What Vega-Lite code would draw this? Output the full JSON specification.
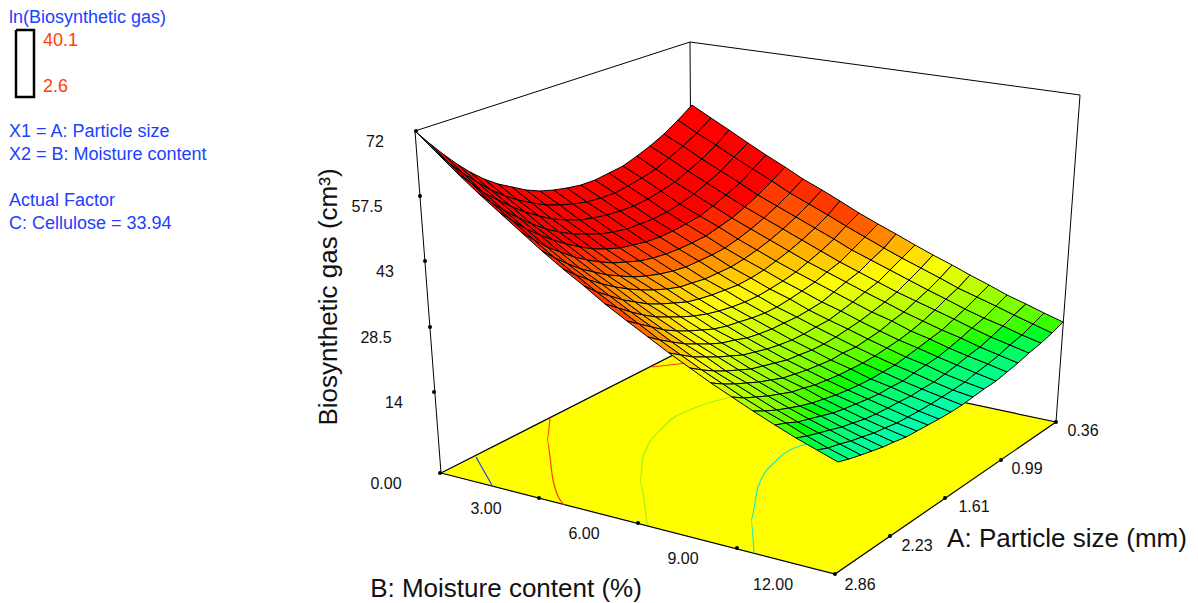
{"$schema":"https://vega.github.io/schema/vega-lite/v6.json","width":1198,"height":603,"padding":0,"autosize":{"type":"fit","contains":"padding"},"background":"white","config":{"view":{"stroke":null}},
"datasets":{
"floor":[{"o":0,"x":441,"y":473},{"o":1,"x":835,"y":574},{"o":2,"x":1056,"y":422},{"o":3,"x":693,"y":345},{"o":4,"x":441,"y":473}],
"frame":[{"s":"a","o":0,"x":441,"y":473},{"s":"a","o":1,"x":415,"y":131},{"s":"a","o":2,"x":690,"y":42},{"s":"a","o":3,"x":1080,"y":95},{"s":"a","o":4,"x":1056,"y":422},{"s":"b","o":0,"x":690,"y":42},{"s":"b","o":1,"x":692,"y":345}],
"contours":[{"s":"c1","o":0,"x":476,"y":457},{"s":"c1","o":1,"x":493,"y":487},
{"s":"c2","o":0,"x":550,"y":418},{"s":"c2","o":1,"x":547,"y":440},{"s":"c2","o":2,"x":553,"y":480},{"s":"c2","o":3,"x":564,"y":505},
{"s":"c2b","o":0,"x":652,"y":367},{"s":"c2b","o":1,"x":687,"y":363},
{"s":"c3","o":0,"x":732,"y":397},{"s":"c3","o":1,"x":697,"y":407},{"s":"c3","o":2,"x":663,"y":427},{"s":"c3","o":3,"x":643,"y":457},{"s":"c3","o":4,"x":640,"y":483},{"s":"c3","o":5,"x":647,"y":525},
{"s":"c4","o":0,"x":807,"y":444},{"s":"c4","o":1,"x":777,"y":460},{"s":"c4","o":2,"x":758,"y":487},{"s":"c4","o":3,"x":751,"y":520},{"s":"c4","o":4,"x":754,"y":553}],
"ticks":[{"x":416,"y":131},{"x":420,"y":196},{"x":425,"y":261},{"x":430,"y":327},{"x":434,"y":392},{"x":440,"y":473},{"x":539,"y":498},{"x":638,"y":523},{"x":737,"y":548},{"x":835,"y":574},{"x":890,"y":536},{"x":945,"y":498},{"x":1001,"y":460},{"x":1056,"y":422}],
"tickLabels":[{"t":"72","x":375,"y":142},{"t":"57.5","x":367,"y":207},{"t":"43","x":385,"y":272},{"t":"28.5","x":376,"y":338},{"t":"14","x":394,"y":403},{"t":"0.00","x":386,"y":484},{"t":"3.00","x":486,"y":509},{"t":"6.00","x":584,"y":534},{"t":"9.00","x":683,"y":559},{"t":"12.00","x":773,"y":585},{"t":"2.86","x":860,"y":585},{"t":"2.23","x":917,"y":546},{"t":"1.61","x":974,"y":507},{"t":"0.99","x":1027,"y":469},{"t":"0.36","x":1083,"y":431}],
"titles":[{"t":"B: Moisture content (%)","x":506,"y":589},{"t":"A: Particle size (mm)","x":1067,"y":539}],
"ztitle":[{"t":"Biosynthetic gas (cm³)","x":329,"y":297}],
"legendText":[{"t":"ln(Biosynthetic gas)","x":9,"y":18,"k":"black"},{"t":"40.1","x":43,"y":41,"k":"red"},{"t":"2.6","x":43,"y":87,"k":"blue"},{"t":"X1 = A: Particle size","x":9,"y":132,"k":"black"},{"t":"X2 = B: Moisture content","x":9,"y":155,"k":"black"},{"t":"Actual Factor","x":9,"y":201,"k":"black"},{"t":"C: Cellulose = 33.94","x":9,"y":224,"k":"black"}],
"legendBox":[{"o":0,"x":16,"y":30},{"o":1,"x":34,"y":30},{"o":2,"x":34,"y":97},{"o":3,"x":16,"y":97},{"o":4,"x":16,"y":30}],
"surface":[
{"i":0,"j":0,"x":415,"y":131,"z":72},{"i":1,"j":0,"x":429,"y":143,"z":72},{"i":2,"j":0,"x":443,"y":154,"z":72},{"i":3,"j":0,"x":457,"y":164,"z":72},{"i":4,"j":0,"x":470,"y":172,"z":72},{"i":5,"j":0,"x":484,"y":179,"z":72},{"i":6,"j":0,"x":498,"y":184,"z":72},{"i":7,"j":0,"x":512,"y":187,"z":72},{"i":8,"j":0,"x":526,"y":190,"z":72},{"i":9,"j":0,"x":540,"y":191,"z":72},{"i":10,"j":0,"x":554,"y":190,"z":72},{"i":11,"j":0,"x":567,"y":188,"z":72},{"i":12,"j":0,"x":581,"y":185,"z":72},{"i":13,"j":0,"x":595,"y":180,"z":72},{"i":14,"j":0,"x":609,"y":173,"z":72},{"i":15,"j":0,"x":623,"y":166,"z":72},{"i":16,"j":0,"x":637,"y":156,"z":72},{"i":17,"j":0,"x":650,"y":146,"z":72},{"i":18,"j":0,"x":664,"y":134,"z":72},{"i":19,"j":0,"x":678,"y":120,"z":72},{"i":20,"j":0,"x":692,"y":105,"z":72},
{"i":0,"j":1,"x":436,"y":152,"z":66},{"i":1,"j":1,"x":450,"y":164,"z":66},{"i":2,"j":1,"x":464,"y":174,"z":66},{"i":3,"j":1,"x":477,"y":182,"z":66},{"i":4,"j":1,"x":491,"y":190,"z":66},{"i":5,"j":1,"x":505,"y":196,"z":66},{"i":6,"j":1,"x":518,"y":200,"z":66},{"i":7,"j":1,"x":532,"y":203,"z":66},{"i":8,"j":1,"x":546,"y":205,"z":66},{"i":9,"j":1,"x":560,"y":205,"z":66},{"i":10,"j":1,"x":573,"y":204,"z":66},{"i":11,"j":1,"x":587,"y":202,"z":66},{"i":12,"j":1,"x":601,"y":198,"z":66},{"i":13,"j":1,"x":615,"y":193,"z":66},{"i":14,"j":1,"x":628,"y":186,"z":66},{"i":15,"j":1,"x":642,"y":178,"z":66},{"i":16,"j":1,"x":656,"y":169,"z":66},{"i":17,"j":1,"x":669,"y":158,"z":66},{"i":18,"j":1,"x":683,"y":146,"z":66},{"i":19,"j":1,"x":697,"y":133,"z":66},{"i":20,"j":1,"x":711,"y":118,"z":66},
{"i":0,"j":2,"x":457,"y":173,"z":60},{"i":1,"j":2,"x":471,"y":183,"z":60},{"i":2,"j":2,"x":484,"y":193,"z":60},{"i":3,"j":2,"x":498,"y":200,"z":60},{"i":4,"j":2,"x":512,"y":207,"z":60},{"i":5,"j":2,"x":525,"y":212,"z":60},{"i":6,"j":2,"x":539,"y":216,"z":60},{"i":7,"j":2,"x":552,"y":219,"z":60},{"i":8,"j":2,"x":566,"y":220,"z":60},{"i":9,"j":2,"x":580,"y":220,"z":60},{"i":10,"j":2,"x":593,"y":218,"z":60},{"i":11,"j":2,"x":607,"y":215,"z":60},{"i":12,"j":2,"x":620,"y":211,"z":60},{"i":13,"j":2,"x":634,"y":206,"z":60},{"i":14,"j":2,"x":648,"y":199,"z":60},{"i":15,"j":2,"x":661,"y":191,"z":60},{"i":16,"j":2,"x":675,"y":182,"z":60},{"i":17,"j":2,"x":688,"y":171,"z":60},{"i":18,"j":2,"x":702,"y":159,"z":60},{"i":19,"j":2,"x":716,"y":145,"z":60},{"i":20,"j":2,"x":729,"y":130,"z":60},
{"i":0,"j":3,"x":478,"y":193,"z":55},{"i":1,"j":3,"x":492,"y":203,"z":55},{"i":2,"j":3,"x":505,"y":211,"z":55},{"i":3,"j":3,"x":519,"y":218,"z":55},{"i":4,"j":3,"x":532,"y":224,"z":55},{"i":5,"j":3,"x":546,"y":229,"z":55},{"i":6,"j":3,"x":559,"y":232,"z":55},{"i":7,"j":3,"x":573,"y":234,"z":55},{"i":8,"j":3,"x":586,"y":234,"z":55},{"i":9,"j":3,"x":600,"y":234,"z":55},{"i":10,"j":3,"x":613,"y":232,"z":55},{"i":11,"j":3,"x":627,"y":229,"z":55},{"i":12,"j":3,"x":640,"y":224,"z":55},{"i":13,"j":3,"x":653,"y":219,"z":55},{"i":14,"j":3,"x":667,"y":212,"z":55},{"i":15,"j":3,"x":680,"y":204,"z":55},{"i":16,"j":3,"x":694,"y":194,"z":55},{"i":17,"j":3,"x":707,"y":183,"z":55},{"i":18,"j":3,"x":721,"y":171,"z":55},{"i":19,"j":3,"x":734,"y":157,"z":55},{"i":20,"j":3,"x":748,"y":143,"z":55},
{"i":0,"j":4,"x":500,"y":213,"z":48},{"i":1,"j":4,"x":513,"y":221,"z":46},{"i":2,"j":4,"x":526,"y":229,"z":44},{"i":3,"j":4,"x":540,"y":235,"z":42},{"i":4,"j":4,"x":553,"y":240,"z":41},{"i":5,"j":4,"x":566,"y":244,"z":40},{"i":6,"j":4,"x":580,"y":247,"z":40},{"i":7,"j":4,"x":593,"y":249,"z":39},{"i":8,"j":4,"x":606,"y":249,"z":39},{"i":9,"j":4,"x":620,"y":248,"z":39},{"i":10,"j":4,"x":633,"y":245,"z":39},{"i":11,"j":4,"x":646,"y":242,"z":39},{"i":12,"j":4,"x":660,"y":237,"z":39},{"i":13,"j":4,"x":673,"y":231,"z":39},{"i":14,"j":4,"x":686,"y":224,"z":40},{"i":15,"j":4,"x":700,"y":216,"z":40},{"i":16,"j":4,"x":713,"y":206,"z":41},{"i":17,"j":4,"x":726,"y":195,"z":42},{"i":18,"j":4,"x":740,"y":183,"z":44},{"i":19,"j":4,"x":753,"y":169,"z":46},{"i":20,"j":4,"x":766,"y":155,"z":48},
{"i":0,"j":5,"x":521,"y":232,"z":40},{"i":1,"j":5,"x":534,"y":240,"z":39},{"i":2,"j":5,"x":547,"y":247,"z":38},{"i":3,"j":5,"x":560,"y":252,"z":38},{"i":4,"j":5,"x":574,"y":257,"z":37},{"i":5,"j":5,"x":587,"y":260,"z":37},{"i":6,"j":5,"x":600,"y":262,"z":37},{"i":7,"j":5,"x":613,"y":263,"z":36},{"i":8,"j":5,"x":626,"y":262,"z":36},{"i":9,"j":5,"x":640,"y":261,"z":36},{"i":10,"j":5,"x":653,"y":258,"z":36},{"i":11,"j":5,"x":666,"y":254,"z":36},{"i":12,"j":5,"x":679,"y":249,"z":36},{"i":13,"j":5,"x":692,"y":243,"z":36},{"i":14,"j":5,"x":706,"y":236,"z":37},{"i":15,"j":5,"x":719,"y":227,"z":37},{"i":16,"j":5,"x":732,"y":218,"z":37},{"i":17,"j":5,"x":745,"y":207,"z":38},{"i":18,"j":5,"x":758,"y":195,"z":38},{"i":19,"j":5,"x":772,"y":181,"z":39},{"i":20,"j":5,"x":785,"y":167,"z":40},
{"i":0,"j":6,"x":542,"y":251,"z":40},{"i":1,"j":6,"x":555,"y":258,"z":38},{"i":2,"j":6,"x":568,"y":264,"z":36},{"i":3,"j":6,"x":581,"y":269,"z":35},{"i":4,"j":6,"x":594,"y":272,"z":33},{"i":5,"j":6,"x":607,"y":275,"z":32},{"i":6,"j":6,"x":620,"y":276,"z":32},{"i":7,"j":6,"x":633,"y":277,"z":31},{"i":8,"j":6,"x":646,"y":276,"z":31},{"i":9,"j":6,"x":660,"y":274,"z":30},{"i":10,"j":6,"x":673,"y":271,"z":30},{"i":11,"j":6,"x":686,"y":267,"z":30},{"i":12,"j":6,"x":699,"y":261,"z":31},{"i":13,"j":6,"x":712,"y":255,"z":31},{"i":14,"j":6,"x":725,"y":248,"z":32},{"i":15,"j":6,"x":738,"y":239,"z":32},{"i":16,"j":6,"x":751,"y":229,"z":33},{"i":17,"j":6,"x":764,"y":218,"z":35},{"i":18,"j":6,"x":777,"y":206,"z":36},{"i":19,"j":6,"x":790,"y":193,"z":38},{"i":20,"j":6,"x":803,"y":179,"z":40},
{"i":0,"j":7,"x":563,"y":269,"z":40},{"i":1,"j":7,"x":576,"y":275,"z":37},{"i":2,"j":7,"x":589,"y":280,"z":34},{"i":3,"j":7,"x":602,"y":284,"z":32},{"i":4,"j":7,"x":615,"y":287,"z":30},{"i":5,"j":7,"x":628,"y":289,"z":29},{"i":6,"j":7,"x":641,"y":290,"z":27},{"i":7,"j":7,"x":654,"y":290,"z":27},{"i":8,"j":7,"x":667,"y":289,"z":26},{"i":9,"j":7,"x":680,"y":287,"z":25},{"i":10,"j":7,"x":692,"y":283,"z":25},{"i":11,"j":7,"x":705,"y":279,"z":25},{"i":12,"j":7,"x":718,"y":273,"z":26},{"i":13,"j":7,"x":731,"y":267,"z":27},{"i":14,"j":7,"x":744,"y":259,"z":27},{"i":15,"j":7,"x":757,"y":250,"z":29},{"i":16,"j":7,"x":770,"y":240,"z":30},{"i":17,"j":7,"x":783,"y":229,"z":32},{"i":18,"j":7,"x":796,"y":217,"z":34},{"i":19,"j":7,"x":809,"y":204,"z":37},{"i":20,"j":7,"x":822,"y":190,"z":40},
{"i":0,"j":8,"x":584,"y":286,"z":40},{"i":1,"j":8,"x":597,"y":292,"z":36},{"i":2,"j":8,"x":610,"y":296,"z":32},{"i":3,"j":8,"x":623,"y":300,"z":29},{"i":4,"j":8,"x":635,"y":302,"z":27},{"i":5,"j":8,"x":648,"y":304,"z":25},{"i":6,"j":8,"x":661,"y":304,"z":24},{"i":7,"j":8,"x":674,"y":303,"z":23},{"i":8,"j":8,"x":687,"y":302,"z":22},{"i":9,"j":8,"x":699,"y":299,"z":22},{"i":10,"j":8,"x":712,"y":295,"z":21},{"i":11,"j":8,"x":725,"y":290,"z":22},{"i":12,"j":8,"x":738,"y":285,"z":22},{"i":13,"j":8,"x":751,"y":278,"z":23},{"i":14,"j":8,"x":764,"y":270,"z":24},{"i":15,"j":8,"x":776,"y":261,"z":25},{"i":16,"j":8,"x":789,"y":251,"z":27},{"i":17,"j":8,"x":802,"y":240,"z":29},{"i":18,"j":8,"x":815,"y":228,"z":32},{"i":19,"j":8,"x":828,"y":215,"z":36},{"i":20,"j":8,"x":840,"y":201,"z":40},
{"i":0,"j":9,"x":605,"y":304,"z":39},{"i":1,"j":9,"x":618,"y":308,"z":34},{"i":2,"j":9,"x":631,"y":312,"z":30},{"i":3,"j":9,"x":643,"y":315,"z":27},{"i":4,"j":9,"x":656,"y":317,"z":25},{"i":5,"j":9,"x":669,"y":317,"z":23},{"i":6,"j":9,"x":681,"y":317,"z":21},{"i":7,"j":9,"x":694,"y":316,"z":20},{"i":8,"j":9,"x":707,"y":314,"z":19.8},{"i":9,"j":9,"x":719,"y":311,"z":19.3},{"i":10,"j":9,"x":732,"y":307,"z":19.1},{"i":11,"j":9,"x":745,"y":302,"z":19.3},{"i":12,"j":9,"x":758,"y":296,"z":19.6},{"i":13,"j":9,"x":770,"y":289,"z":20.3},{"i":14,"j":9,"x":783,"y":281,"z":21.4},{"i":15,"j":9,"x":796,"y":272,"z":22.7},{"i":16,"j":9,"x":808,"y":262,"z":24.5},{"i":17,"j":9,"x":821,"y":251,"z":26.9},{"i":18,"j":9,"x":834,"y":239,"z":30},{"i":19,"j":9,"x":846,"y":226,"z":34},{"i":20,"j":9,"x":859,"y":213,"z":39},
{"i":0,"j":10,"x":627,"y":321,"z":38},{"i":1,"j":10,"x":639,"y":324,"z":33},{"i":2,"j":10,"x":652,"y":327,"z":28.5},{"i":3,"j":10,"x":664,"y":330,"z":25},{"i":4,"j":10,"x":677,"y":331,"z":23},{"i":5,"j":10,"x":689,"y":331,"z":21},{"i":6,"j":10,"x":702,"y":330,"z":19.6},{"i":7,"j":10,"x":714,"y":329,"z":18.5},{"i":8,"j":10,"x":727,"y":326,"z":17.7},{"i":9,"j":10,"x":739,"y":322,"z":17.3},{"i":10,"j":10,"x":752,"y":318,"z":17.1},{"i":11,"j":10,"x":765,"y":313,"z":17.1},{"i":12,"j":10,"x":777,"y":307,"z":17.5},{"i":13,"j":10,"x":790,"y":299,"z":18.1},{"i":14,"j":10,"x":802,"y":291,"z":19.1},{"i":15,"j":10,"x":815,"y":282,"z":20.5},{"i":16,"j":10,"x":827,"y":272,"z":22},{"i":17,"j":10,"x":840,"y":262,"z":24},{"i":18,"j":10,"x":852,"y":250,"z":27},{"i":19,"j":10,"x":865,"y":237,"z":31},{"i":20,"j":10,"x":878,"y":224,"z":36},
{"i":0,"j":11,"x":648,"y":337,"z":32},{"i":1,"j":11,"x":660,"y":340,"z":28},{"i":2,"j":11,"x":672,"y":342,"z":25},{"i":3,"j":11,"x":685,"y":344,"z":22},{"i":4,"j":11,"x":697,"y":344,"z":20.3},{"i":5,"j":11,"x":710,"y":344,"z":18.7},{"i":6,"j":11,"x":722,"y":343,"z":17.5},{"i":7,"j":11,"x":735,"y":340,"z":16.5},{"i":8,"j":11,"x":747,"y":338,"z":16},{"i":9,"j":11,"x":759,"y":334,"z":15.6},{"i":10,"j":11,"x":772,"y":329,"z":15.4},{"i":11,"j":11,"x":784,"y":323,"z":15.4},{"i":12,"j":11,"x":797,"y":317,"z":15.8},{"i":13,"j":11,"x":809,"y":310,"z":16.3},{"i":14,"j":11,"x":822,"y":302,"z":17.1},{"i":15,"j":11,"x":834,"y":292,"z":18.1},{"i":16,"j":11,"x":846,"y":282,"z":19.6},{"i":17,"j":11,"x":859,"y":272,"z":21},{"i":18,"j":11,"x":871,"y":260,"z":23},{"i":19,"j":11,"x":884,"y":248,"z":27},{"i":20,"j":11,"x":896,"y":234,"z":30},
{"i":0,"j":12,"x":669,"y":353,"z":26},{"i":1,"j":12,"x":681,"y":355,"z":23},{"i":2,"j":12,"x":693,"y":357,"z":20.7},{"i":3,"j":12,"x":706,"y":357,"z":18.9},{"i":4,"j":12,"x":718,"y":357,"z":17.5},{"i":5,"j":12,"x":730,"y":356,"z":16.3},{"i":6,"j":12,"x":743,"y":355,"z":15.4},{"i":7,"j":12,"x":755,"y":352,"z":14.7},{"i":8,"j":12,"x":767,"y":349,"z":14.2},{"i":9,"j":12,"x":779,"y":345,"z":14},{"i":10,"j":12,"x":792,"y":340,"z":13.9},{"i":11,"j":12,"x":804,"y":334,"z":14},{"i":12,"j":12,"x":816,"y":327,"z":14.2},{"i":13,"j":12,"x":829,"y":320,"z":14.7},{"i":14,"j":12,"x":841,"y":311,"z":15.4},{"i":15,"j":12,"x":853,"y":302,"z":16.3},{"i":16,"j":12,"x":865,"y":292,"z":17.5},{"i":17,"j":12,"x":878,"y":282,"z":18.9},{"i":18,"j":12,"x":890,"y":270,"z":20.7},{"i":19,"j":12,"x":902,"y":258,"z":23},{"i":20,"j":12,"x":915,"y":245,"z":26},
{"i":0,"j":13,"x":690,"y":368,"z":21.4},{"i":1,"j":13,"x":702,"y":370,"z":19.3},{"i":2,"j":13,"x":714,"y":371,"z":17.7},{"i":3,"j":13,"x":726,"y":371,"z":16.3},{"i":4,"j":13,"x":739,"y":370,"z":15.2},{"i":5,"j":13,"x":751,"y":369,"z":14.4},{"i":6,"j":13,"x":763,"y":366,"z":13.7},{"i":7,"j":13,"x":775,"y":363,"z":13.3},{"i":8,"j":13,"x":787,"y":360,"z":13},{"i":9,"j":13,"x":799,"y":355,"z":12.7},{"i":10,"j":13,"x":812,"y":350,"z":12.7},{"i":11,"j":13,"x":824,"y":344,"z":12.8},{"i":12,"j":13,"x":836,"y":337,"z":13},{"i":13,"j":13,"x":848,"y":329,"z":13.4},{"i":14,"j":13,"x":860,"y":321,"z":13.8},{"i":15,"j":13,"x":872,"y":312,"z":14.7},{"i":16,"j":13,"x":885,"y":302,"z":15.5},{"i":17,"j":13,"x":897,"y":292,"z":16.6},{"i":18,"j":13,"x":909,"y":280,"z":18.3},{"i":19,"j":13,"x":921,"y":268,"z":20},{"i":20,"j":13,"x":933,"y":255,"z":22},
{"i":0,"j":14,"x":711,"y":383,"z":17.7},{"i":1,"j":14,"x":723,"y":384,"z":16.1},{"i":2,"j":14,"x":735,"y":384,"z":15},{"i":3,"j":14,"x":747,"y":383,"z":14.1},{"i":4,"j":14,"x":759,"y":382,"z":13.3},{"i":5,"j":14,"x":771,"y":380,"z":12.7},{"i":6,"j":14,"x":783,"y":378,"z":12.1},{"i":7,"j":14,"x":795,"y":374,"z":11.9},{"i":8,"j":14,"x":807,"y":370,"z":11.5},{"i":9,"j":14,"x":819,"y":365,"z":11.4},{"i":10,"j":14,"x":831,"y":360,"z":11.4},{"i":11,"j":14,"x":843,"y":353,"z":11.5},{"i":12,"j":14,"x":856,"y":347,"z":11.7},{"i":13,"j":14,"x":868,"y":339,"z":12.1},{"i":14,"j":14,"x":880,"y":331,"z":12.5},{"i":15,"j":14,"x":892,"y":321,"z":13.1},{"i":16,"j":14,"x":904,"y":312,"z":13.8},{"i":17,"j":14,"x":916,"y":301,"z":14.9},{"i":18,"j":14,"x":928,"y":290,"z":15.9},{"i":19,"j":14,"x":940,"y":278,"z":17.4},{"i":20,"j":14,"x":952,"y":265,"z":19.1},
{"i":0,"j":15,"x":732,"y":397,"z":15.2},{"i":1,"j":15,"x":744,"y":398,"z":14.2},{"i":2,"j":15,"x":756,"y":397,"z":13.3},{"i":3,"j":15,"x":768,"y":396,"z":12.5},{"i":4,"j":15,"x":780,"y":394,"z":11.8},{"i":5,"j":15,"x":792,"y":392,"z":11.4},{"i":6,"j":15,"x":804,"y":388,"z":11},{"i":7,"j":15,"x":815,"y":385,"z":10.8},{"i":8,"j":15,"x":827,"y":380,"z":10.7},{"i":9,"j":15,"x":839,"y":375,"z":10.5},{"i":10,"j":15,"x":851,"y":369,"z":10.5},{"i":11,"j":15,"x":863,"y":363,"z":10.7},{"i":12,"j":15,"x":875,"y":356,"z":10.8},{"i":13,"j":15,"x":887,"y":348,"z":11.1},{"i":14,"j":15,"x":899,"y":340,"z":11.5},{"i":15,"j":15,"x":911,"y":331,"z":12},{"i":16,"j":15,"x":923,"y":321,"z":12.7},{"i":17,"j":15,"x":935,"y":310,"z":13.4},{"i":18,"j":15,"x":946,"y":299,"z":14.4},{"i":19,"j":15,"x":958,"y":288,"z":15.6},{"i":20,"j":15,"x":970,"y":275,"z":16.9},
{"i":0,"j":16,"x":753,"y":411,"z":13.4},{"i":1,"j":16,"x":765,"y":411,"z":12.5},{"i":2,"j":16,"x":777,"y":410,"z":11.8},{"i":3,"j":16,"x":789,"y":408,"z":11.1},{"i":4,"j":16,"x":800,"y":406,"z":10.8},{"i":5,"j":16,"x":812,"y":403,"z":10.3},{"i":6,"j":16,"x":824,"y":399,"z":10.1},{"i":7,"j":16,"x":836,"y":395,"z":9.8},{"i":8,"j":16,"x":848,"y":390,"z":9.7},{"i":9,"j":16,"x":859,"y":385,"z":9.6},{"i":10,"j":16,"x":871,"y":379,"z":9.6},{"i":11,"j":16,"x":883,"y":372,"z":9.7},{"i":12,"j":16,"x":895,"y":365,"z":9.8},{"i":13,"j":16,"x":906,"y":357,"z":10.1},{"i":14,"j":16,"x":918,"y":348,"z":10.4},{"i":15,"j":16,"x":930,"y":339,"z":10.8},{"i":16,"j":16,"x":942,"y":330,"z":11.3},{"i":17,"j":16,"x":954,"y":319,"z":12},{"i":18,"j":16,"x":965,"y":309,"z":12.7},{"i":19,"j":16,"x":977,"y":297,"z":13.6},{"i":20,"j":16,"x":989,"y":285,"z":14.7},
{"i":0,"j":17,"x":775,"y":425,"z":11.4},{"i":1,"j":17,"x":786,"y":423,"z":10.8},{"i":2,"j":17,"x":798,"y":422,"z":10.3},{"i":3,"j":17,"x":809,"y":419,"z":9.9},{"i":4,"j":17,"x":821,"y":416,"z":9.6},{"i":5,"j":17,"x":833,"y":413,"z":9.4},{"i":6,"j":17,"x":844,"y":409,"z":9.2},{"i":7,"j":17,"x":856,"y":404,"z":9.1},{"i":8,"j":17,"x":868,"y":399,"z":9},{"i":9,"j":17,"x":879,"y":394,"z":9},{"i":10,"j":17,"x":891,"y":387,"z":9},{"i":11,"j":17,"x":903,"y":381,"z":9.1},{"i":12,"j":17,"x":914,"y":373,"z":9.2},{"i":13,"j":17,"x":926,"y":365,"z":9.4},{"i":14,"j":17,"x":938,"y":357,"z":9.7},{"i":15,"j":17,"x":949,"y":348,"z":10.1},{"i":16,"j":17,"x":961,"y":338,"z":10.5},{"i":17,"j":17,"x":972,"y":328,"z":11},{"i":18,"j":17,"x":984,"y":318,"z":11.7},{"i":19,"j":17,"x":996,"y":306,"z":12.4},{"i":20,"j":17,"x":1007,"y":295,"z":13.2},
{"i":0,"j":18,"x":796,"y":438,"z":10.2},{"i":1,"j":18,"x":807,"y":436,"z":9.7},{"i":2,"j":18,"x":819,"y":433,"z":9.3},{"i":3,"j":18,"x":830,"y":430,"z":9},{"i":4,"j":18,"x":842,"y":427,"z":8.8},{"i":5,"j":18,"x":853,"y":423,"z":8.6},{"i":6,"j":18,"x":865,"y":419,"z":8.4},{"i":7,"j":18,"x":876,"y":414,"z":8.3},{"i":8,"j":18,"x":888,"y":408,"z":8.3},{"i":9,"j":18,"x":899,"y":402,"z":8.3},{"i":10,"j":18,"x":911,"y":396,"z":8.3},{"i":11,"j":18,"x":922,"y":389,"z":8.4},{"i":12,"j":18,"x":934,"y":382,"z":8.6},{"i":13,"j":18,"x":945,"y":374,"z":8.8},{"i":14,"j":18,"x":957,"y":365,"z":9},{"i":15,"j":18,"x":968,"y":356,"z":9.3},{"i":16,"j":18,"x":980,"y":347,"z":9.7},{"i":17,"j":18,"x":991,"y":337,"z":10.2},{"i":18,"j":18,"x":1003,"y":326,"z":10.7},{"i":19,"j":18,"x":1014,"y":315,"z":11.3},{"i":20,"j":18,"x":1026,"y":304,"z":12.1},
{"i":0,"j":19,"x":817,"y":450,"z":9.2},{"i":1,"j":19,"x":828,"y":448,"z":8.8},{"i":2,"j":19,"x":840,"y":444,"z":8.5},{"i":3,"j":19,"x":851,"y":441,"z":8.3},{"i":4,"j":19,"x":862,"y":437,"z":8.1},{"i":5,"j":19,"x":874,"y":433,"z":8},{"i":6,"j":19,"x":885,"y":428,"z":7.8},{"i":7,"j":19,"x":897,"y":423,"z":7.8},{"i":8,"j":19,"x":908,"y":417,"z":7.7},{"i":9,"j":19,"x":919,"y":411,"z":7.7},{"i":10,"j":19,"x":931,"y":404,"z":7.8},{"i":11,"j":19,"x":942,"y":397,"z":7.9},{"i":12,"j":19,"x":953,"y":390,"z":8.1},{"i":13,"j":19,"x":965,"y":382,"z":8.2},{"i":14,"j":19,"x":976,"y":373,"z":8.4},{"i":15,"j":19,"x":988,"y":364,"z":8.7},{"i":16,"j":19,"x":999,"y":355,"z":9.1},{"i":17,"j":19,"x":1010,"y":345,"z":9.4},{"i":18,"j":19,"x":1022,"y":335,"z":10},{"i":19,"j":19,"x":1033,"y":324,"z":10.6},{"i":20,"j":19,"x":1044,"y":313,"z":11.2},
{"i":0,"j":20,"x":838,"y":462,"z":8.3},{"i":1,"j":20,"x":849,"y":459,"z":8.1},{"i":2,"j":20,"x":861,"y":455,"z":7.8},{"i":3,"j":20,"x":872,"y":451,"z":7.6},{"i":4,"j":20,"x":883,"y":447,"z":7.5},{"i":5,"j":20,"x":894,"y":442,"z":7.2},{"i":6,"j":20,"x":906,"y":437,"z":7.2},{"i":7,"j":20,"x":917,"y":431,"z":7.2},{"i":8,"j":20,"x":928,"y":425,"z":7.2},{"i":9,"j":20,"x":939,"y":419,"z":7.2},{"i":10,"j":20,"x":951,"y":412,"z":7.2},{"i":11,"j":20,"x":962,"y":405,"z":7.3},{"i":12,"j":20,"x":973,"y":397,"z":7.5},{"i":13,"j":20,"x":984,"y":389,"z":7.7},{"i":14,"j":20,"x":996,"y":381,"z":7.9},{"i":15,"j":20,"x":1007,"y":372,"z":8.1},{"i":16,"j":20,"x":1018,"y":363,"z":8.5},{"i":17,"j":20,"x":1029,"y":353,"z":8.9},{"i":18,"j":20,"x":1041,"y":343,"z":9.3},{"i":19,"j":20,"x":1052,"y":333,"z":9.9},{"i":20,"j":20,"x":1063,"y":322,"z":10.4}
]},
"encoding":{"x":{"field":"x","type":"quantitative","scale":{"domain":[0,1198],"nice":false,"zero":false},"axis":null},"y":{"field":"y","type":"quantitative","scale":{"domain":[603,0],"nice":false,"zero":false},"axis":null}},
"layer":[
{"data":{"name":"floor"},"mark":{"type":"line","stroke":"black","strokeWidth":1.2,"fill":"#ffff00"},"encoding":{"order":{"field":"o","type":"quantitative"}}},
{"data":{"name":"contours"},"mark":{"type":"line","strokeWidth":1.2,"interpolate":"monotone"},"encoding":{"order":{"field":"o","type":"quantitative"},"detail":{"field":"s"},"color":{"field":"s","type":"nominal","legend":null,"scale":{"domain":["c1","c2","c2b","c3","c4"],"range":["#2040ff","#ff4000","#ff4000","#a0f020","#20e8c0"]}}}},
{"data":{"name":"frame"},"mark":{"type":"line","stroke":"black","strokeWidth":1},"encoding":{"order":{"field":"o","type":"quantitative"},"detail":{"field":"s"}}},
{"data":{"name":"ticks"},"mark":{"type":"point","filled":true,"color":"black","size":16,"opacity":1}},
{"data":{"name":"surface"},"transform":[
{"calculate":"[[0,0,0],[1,0,1],[1,1,2],[0,1,3],[0,0,4]]","as":"c"},
{"flatten":["c"]},
{"calculate":"datum.i-datum.c[0]","as":"ci"},
{"calculate":"datum.j-datum.c[1]","as":"cj"},
{"calculate":"datum.c[2]","as":"ord"},
{"filter":"datum.ci>=0 && datum.cj>=0 && datum.ci<20 && datum.cj<20"},
{"calculate":"datum.cj*100+datum.ci","as":"cell"},
{"joinaggregate":[{"op":"mean","field":"z","as":"gas"}],"groupby":["cell"]}
],
"mark":{"type":"line","stroke":"black","strokeWidth":1},
"encoding":{"detail":{"field":"cell","type":"nominal"},"order":{"field":"ord","type":"quantitative"},"fill":{"field":"gas","type":"quantitative","legend":null,"scale":{"type":"log","domain":[2.6,5.2,10.2,20.3,40.1],"range":["#0000ff","#00ffff","#00ff00","#ffff00","#ff0000"],"clamp":true}}}},
{"data":{"name":"tickLabels"},"mark":{"type":"text","font":"Liberation Sans","fontSize":16,"color":"#111","align":"center","baseline":"middle"},"encoding":{"text":{"field":"t"}}},
{"data":{"name":"titles"},"mark":{"type":"text","font":"Liberation Sans","fontSize":26,"color":"#111","align":"center","baseline":"middle"},"encoding":{"text":{"field":"t"}}},
{"data":{"name":"ztitle"},"mark":{"type":"text","font":"Liberation Sans","fontSize":26,"color":"#111","align":"center","baseline":"middle","angle":270},"encoding":{"text":{"field":"t"}}},
{"data":{"name":"legendBox"},"mark":{"type":"line","stroke":"black","strokeWidth":2.5},"encoding":{"order":{"field":"o","type":"quantitative"}}},
{"data":{"name":"legendText"},"mark":{"type":"text","font":"Liberation Sans","fontSize":18,"align":"left","baseline":"middle"},"encoding":{"text":{"field":"t"},"color":{"field":"k","type":"nominal","legend":null,"scale":{"domain":["black","red","blue"],"range":["#111111","#ff0000","#0000ff"]}}}}
]}
